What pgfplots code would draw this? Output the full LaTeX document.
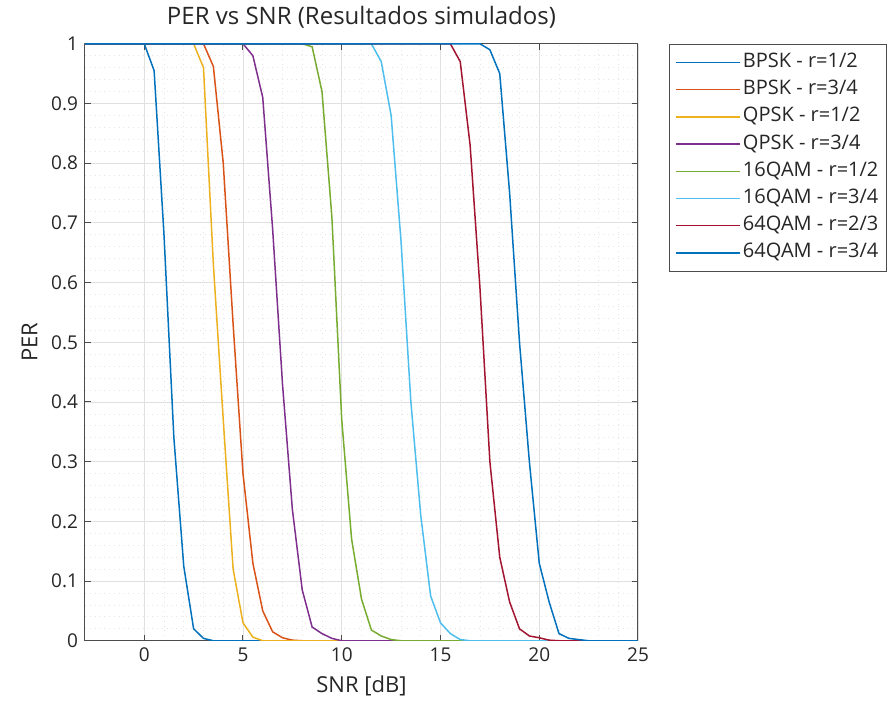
\documentclass[border=0pt]{standalone}
\usepackage{fontspec}
\setmainfont{Open Sans}
\usepackage{pgfplots}
\pgfplotsset{compat=1.18}

\definecolor{c1}{rgb}{0,0.447,0.741}
\definecolor{c2}{rgb}{0.85,0.325,0.098}
\definecolor{c3}{rgb}{0.929,0.694,0.125}
\definecolor{c4}{rgb}{0.494,0.184,0.556}
\definecolor{c5}{rgb}{0.466,0.674,0.188}
\definecolor{c6}{rgb}{0.301,0.745,0.933}
\definecolor{c7}{rgb}{0.635,0.078,0.184}

\begin{document}
\begin{tikzpicture}
\begin{axis}[
    scale only axis,
    width=276.5pt,
    height=298.5pt,
    xmin=-3, xmax=25,
    ymin=0, ymax=1,
    xtick={0,5,10,15,20,25},
    ytick={0,0.1,0.2,0.3,0.4,0.5,0.6,0.7,0.8,0.9,1},
    yticklabels={0,0.1,0.2,0.3,0.4,0.5,0.6,0.7,0.8,0.9,1},
    minor x tick num=4,
    minor y tick num=4,
    tick align=inside,
    major tick length=3pt,
    minor tick length=0pt,
    grid=both,
    major grid style={black!12, line width=0.4pt},
    minor grid style={black!10, line width=0.4pt, dotted},
    axis line style={black!70, line width=0.5pt},
    tick style={black!70, line width=0.5pt},
    /pgf/number format/assume math mode=true,
    every tick label/.append style={font=\fontsize{9.5}{10}\selectfont, text=black!85},
    title={PER vs SNR (Resultados simulados)},
    title style={font=\fontsize{12}{14}\selectfont, text=black!85, yshift=-2pt},
    xlabel={SNR [dB]},
    ylabel={PER},
    label style={font=\fontsize{11}{13}\selectfont, text=black!85},
    legend style={
        at={(1,1)}, anchor=north west, xshift=15.5pt,
        font=\fontsize{10}{11}\selectfont,
        draw=black!70, line width=0.5pt,
        inner xsep=3pt, inner ysep=3.6pt,
        row sep=2.6pt,
        nodes={inner sep=1pt, text height=7pt, text depth=2pt, text=black!85},
    },
    legend cell align=left,
    legend image code/.code={\draw[#1, line width=0.75pt] (0pt,0pt) -- (32pt,0pt);},
    every axis plot/.append style={line width=0.75pt},
]
\addplot[c1] coordinates {
    (-3,1) (0,1) (0.5,0.955) (1,0.68) (1.5,0.34) (2,0.125) (2.5,0.02)
    (3,0.004) (3.5,0) (25,0)
};
\addlegendentry{BPSK - r=1/2}
\addplot[c2] coordinates {
    (-3,1) (3,1) (3.5,0.962) (4,0.80) (4.5,0.53) (5,0.28) (5.5,0.13)
    (6,0.05) (6.5,0.015) (7,0.005) (7.5,0.001) (8,0) (25,0)
};
\addlegendentry{BPSK - r=3/4}
\addplot[c3] coordinates {
    (-3,1) (2.5,1) (3,0.96) (3.5,0.63) (4,0.37) (4.5,0.12) (5,0.03)
    (5.5,0.006) (6,0) (25,0)
};
\addlegendentry{QPSK - r=1/2}
\addplot[c4] coordinates {
    (-3,1) (5,1) (5.5,0.98) (6,0.91) (6.5,0.69) (7,0.43) (7.5,0.22)
    (8,0.085) (8.5,0.023) (9,0.012) (9.5,0.004) (10,0) (25,0)
};
\addlegendentry{QPSK - r=3/4}
\addplot[c5] coordinates {
    (-3,1) (8,1) (8.5,0.995) (9,0.92) (9.5,0.71) (10,0.37) (10.5,0.17)
    (11,0.07) (11.5,0.018) (12,0.008) (12.5,0.002) (13,0) (25,0)
};
\addlegendentry{16QAM - r=1/2}
\addplot[c6] coordinates {
    (-3,1) (11.5,1) (12,0.97) (12.5,0.88) (13,0.67) (13.5,0.40) (14,0.21)
    (14.5,0.075) (15,0.03) (15.5,0.012) (16,0.002) (16.5,0) (25,0)
};
\addlegendentry{16QAM - r=3/4}
\addplot[c7] coordinates {
    (-3,1) (15.5,1) (16,0.97) (16.5,0.83) (17,0.59) (17.5,0.30) (18,0.14)
    (18.5,0.065) (19,0.02) (19.5,0.008) (20,0.005) (20.5,0.001) (21,0) (25,0)
};
\addlegendentry{64QAM - r=2/3}
\addplot[c1] coordinates {
    (-3,1) (17,1) (17.5,0.99) (18,0.95) (18.5,0.75) (19,0.50) (19.5,0.30)
    (20,0.13) (20.5,0.065) (21,0.012) (21.5,0.004) (22,0.002) (22.5,0) (25,0)
};
\addlegendentry{64QAM - r=3/4}
\end{axis}
\path ([xshift=-42.5pt,yshift=-36pt]current axis.south west)
    rectangle ([xshift=125.5pt,yshift=20pt]current axis.north east);
\end{tikzpicture}
\end{document}
